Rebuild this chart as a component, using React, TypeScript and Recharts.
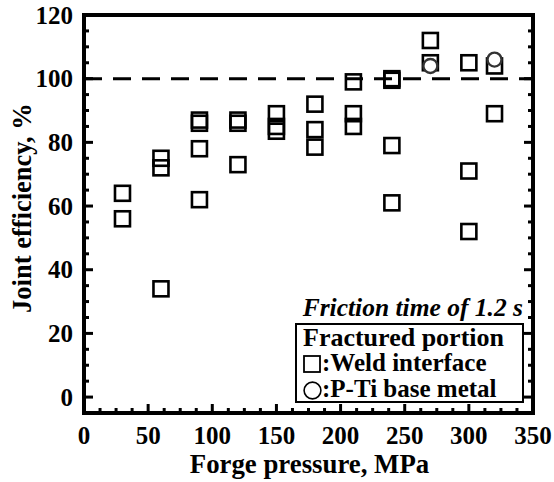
import React from "react";
import { ScatterChart, Scatter, XAxis, YAxis, ReferenceLine, Legend } from "recharts";

// forge pressure (MPa) for each group of tests
const pressures = [30, 60, 90, 120, 150, 180, 210, 240, 270, 300, 320];
// joint efficiency (%) of specimens that broke at the weld interface
const weldEfficiency = [
    [64, 56],
    [75, 72, 34],
    [87, 86, 78, 62],
    [87, 86, 73],
    [89, 85, 83.5],
    [92, 84, 78.5],
    [99, 89, 85],
    [100, 99.5, 79, 61],
    [112, 105],
    [105, 71, 52],
    [104, 89],
];
// specimens that broke in the P-Ti base metal
const basePressures = [270, 320];
const baseEfficiency = [104, 106];

const xMajor = [0, 50, 100, 150, 200, 250, 300, 350];
const yMajor = [0, 20, 40, 60, 80, 100, 120];
const xTicks = Array.from({ length: 29 }, (_, i) => i * 12.5);
const yTicks = Array.from({ length: 25 }, (_, i) => i * 5);

const weldData = pressures.flatMap((p, i) => weldEfficiency[i].map((e) => ({ x: p, y: e })));
const baseData = basePressures.map((p, i) => ({ x: p, y: baseEfficiency[i] }));

const FONT = "'Liberation Serif', 'Times New Roman', serif";

const isMajorX = (v: number) => xMajor.includes(v);
const isMajorY = (v: number) => yMajor.includes(v);

const BottomTick = (props: any) => {
    const { x, y, payload } = props;
    const major = isMajorX(payload.value);
    return (
        <g>
            <line x1={x} y1={y} x2={x} y2={y - (major ? 9 : 5)} stroke="#000" strokeWidth={3} />
            {major && (
                <text x={x} y={y + 31} textAnchor="middle" fontFamily={FONT} fontWeight="bold" fontSize={25} fill="#000">
                    {payload.value}
                </text>
            )}
        </g>
    );
};

const TopTick = (props: any) => {
    const { x, y, payload } = props;
    const major = isMajorX(payload.value);
    return <line x1={x} y1={y} x2={x} y2={y + (major ? 9 : 5)} stroke="#000" strokeWidth={3} />;
};

const LeftTick = (props: any) => {
    const { x, y, payload } = props;
    const major = isMajorY(payload.value);
    return (
        <g>
            <line x1={x} y1={y} x2={x + (major ? 9 : 5)} y2={y} stroke="#000" strokeWidth={3} />
            {major && (
                <text x={x - 11} y={y + 8.5} textAnchor="end" fontFamily={FONT} fontWeight="bold" fontSize={25} fill="#000">
                    {payload.value}
                </text>
            )}
        </g>
    );
};

const RightTick = (props: any) => {
    const { x, y, payload } = props;
    const major = isMajorY(payload.value);
    return <line x1={x} y1={y} x2={x - (major ? 9 : 5)} y2={y} stroke="#000" strokeWidth={3} />;
};

const Square = (props: any) => {
    const { cx, cy } = props;
    return <rect x={cx - 7.5} y={cy - 7.5} width={15} height={15} fill="none" stroke="#000" strokeWidth={2.6} />;
};

const Ring = (props: any) => {
    const { cx, cy } = props;
    return <circle cx={cx} cy={cy} r={7} fill="#fff" stroke="#333" strokeWidth={2.4} />;
};

const YTitle = (props: any) => {
    const { viewBox } = props;
    const cx = viewBox.x + 22;
    const cy = viewBox.y + viewBox.height / 2 - 6;
    return (
        <text x={cx} y={cy} transform={`rotate(-90 ${cx} ${cy})`} textAnchor="middle" dominantBaseline="central"
            fontFamily={FONT} fontWeight="bold" fontSize={26.5} fill="#000">
            Joint efficiency, %
        </text>
    );
};

const XTitle = (props: any) => {
    const { viewBox } = props;
    return (
        <text x={viewBox.x + viewBox.width / 2 + 1} y={viewBox.y + 60} textAnchor="middle"
            fontFamily={FONT} fontWeight="bold" fontSize={26.8} fill="#000">
            Forge pressure, MPa
        </text>
    );
};

const FracLegend = () => (
    <div style={{ fontFamily: FONT, fontWeight: "bold", fontSize: 25, color: "#000", lineHeight: "25.5px" }}>
        <div style={{ textAlign: "right", fontStyle: "italic", fontSize: 25.5, paddingRight: 1, marginBottom: 2, whiteSpace: "nowrap" }}>
            Friction time of 1.2 s
        </div>
        <div style={{ border: "2px solid #000", padding: "0 4px 0 6px", whiteSpace: "nowrap" }}>
            <div style={{ fontSize: 26 }}>Fractured portion</div>
            <div>
                <svg width={18} height={18} style={{ verticalAlign: "-2px", marginRight: 1 }}>
                    <rect x={1} y={1} width={16} height={16} fill="none" stroke="#000" strokeWidth={1.8} />
                </svg>
                :Weld interface
            </div>
            <div>
                <svg width={19} height={19} style={{ verticalAlign: "-3px", marginRight: 0 }}>
                    <circle cx={9.5} cy={9.5} r={8.4} fill="none" stroke="#000" strokeWidth={1.6} />
                </svg>
                :P-Ti base metal
            </div>
        </div>
    </div>
);

export default function App() {
    return (
        <div style={{ position: "absolute", left: 0, top: 0, background: "#fff" }}>
            <ScatterChart width={554} height={482} margin={{ top: 14, right: 20, bottom: 0, left: 0 }}>
                <XAxis xAxisId="b" type="number" dataKey="x" domain={[0, 350]} allowDataOverflow ticks={xTicks}
                    interval={0} height={69} tickSize={0} tickMargin={0} tickLine={false} tick={<BottomTick />}
                    axisLine={{ stroke: "#000", strokeWidth: 4, strokeLinecap: "square" }} label={<XTitle />} />
                <XAxis xAxisId="t" orientation="top" type="number" domain={[0, 350]} allowDataOverflow ticks={xTicks}
                    interval={0} height={1} tickSize={0} tickMargin={0} tickLine={false} tick={<TopTick />}
                    axisLine={{ stroke: "#000", strokeWidth: 4, strokeLinecap: "square" }} />
                <YAxis yAxisId="l" type="number" dataKey="y" domain={[-5, 120]} allowDataOverflow ticks={yTicks}
                    interval={0} width={84} tickSize={0} tickMargin={0} tickLine={false} tick={<LeftTick />}
                    axisLine={{ stroke: "#000", strokeWidth: 4, strokeLinecap: "square" }} label={<YTitle />} />
                <YAxis yAxisId="r" orientation="right" type="number" domain={[-5, 120]} allowDataOverflow ticks={yTicks}
                    interval={0} width={1} tickSize={0} tickMargin={0} tickLine={false} tick={<RightTick />}
                    axisLine={{ stroke: "#000", strokeWidth: 4, strokeLinecap: "square" }} />
                <ReferenceLine xAxisId="b" yAxisId="l" y={100} stroke="#000" strokeWidth={3} strokeDasharray="18 11" />
                <Scatter xAxisId="b" yAxisId="l" name="Weld interface" data={weldData} shape={<Square />} isAnimationActive={false} />
                <Scatter xAxisId="b" yAxisId="l" name="P-Ti base metal" data={baseData} shape={<Ring />} isAnimationActive={false} />
                <Legend layout="horizontal" verticalAlign="middle" align="center" content={<FracLegend />}
                    wrapperStyle={{ position: "absolute", left: 295, top: 295, width: 229 }} />
            </ScatterChart>
        </div>
    );
}
